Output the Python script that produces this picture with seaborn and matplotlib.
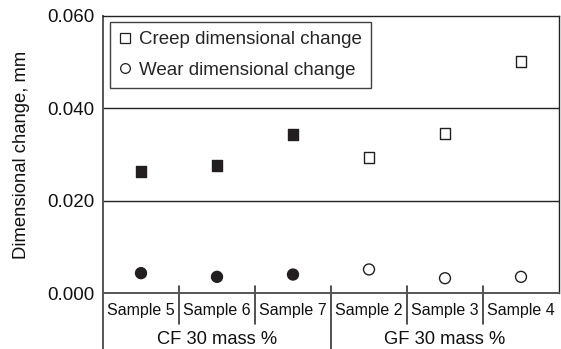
import matplotlib
matplotlib.use("Agg")
import matplotlib.pyplot as plt
from matplotlib.lines import Line2D
import seaborn as sns
import pandas as pd

# Measured dimensional change (mm) per sample
samples = ["Sample 5", "Sample 6", "Sample 7", "Sample 2", "Sample 3", "Sample 4"]
sample_group = ["CF 30 mass %"] * 3 + ["GF 30 mass %"] * 3
groups = ["CF 30 mass %", "GF 30 mass %"]
creep = [0.0264, 0.0276, 0.0344, 0.0294, 0.0346, 0.0502]
wear = [0.0043, 0.0035, 0.0040, 0.0051, 0.0032, 0.0035]
series_names = ["Creep dimensional change", "Wear dimensional change"]
y_ticks = [0.000, 0.020, 0.040, 0.060]

sns.set_style("white")
plt.rcParams["font.family"] = ["Liberation Sans", "DejaVu Sans"]

ink = "#231f20"

df = pd.DataFrame({
    "sample": samples * 2,
    "group": sample_group * 2,
    "series": [series_names[0]] * len(samples) + [series_names[1]] * len(samples),
    "value": creep + wear,
})

fig = plt.figure(figsize=(5.61, 3.49), dpi=100)
W, H = 561, 349
ax_l, ax_r, ax_t, ax_b = 103, 559, 16, 293
ax = fig.add_axes([ax_l / W, 1 - ax_b / H, (ax_r - ax_l) / W, (ax_b - ax_t) / H])

sns.scatterplot(
    data=df, x="sample", y="value", hue="group", style="series",
    palette={groups[0]: ink, groups[1]: "white"},
    markers={series_names[0]: "s", series_names[1]: "o"},
    s=62, edgecolor=ink, linewidth=1.0, legend=False, ax=ax, zorder=3,
)

ax.set_xlim(-0.5, len(samples) - 0.5)
ax.set_ylim(y_ticks[0], y_ticks[-1])
ax.set_yticks(y_ticks)
ax.set_yticklabels([f"{v:.3f}" for v in y_ticks], fontsize=13.5, color="#111111")
ax.tick_params(axis="y", length=0, pad=6)
ax.set_xticks([])
ax.set_xlabel("")

# horizontal reference lines
for v in y_ticks[1:-1]:
    ax.axhline(v, color="#222222", lw=1.0, zorder=1)

for side in ["top", "right"]:
    ax.spines[side].set_color("#222222")
    ax.spines[side].set_linewidth(1.0)
ax.spines["left"].set_color("#555555")
ax.spines["left"].set_linewidth(1.4)
ax.spines["bottom"].set_color("#555555")
ax.spines["bottom"].set_linewidth(1.4)

ax.set_ylabel("Dimensional change, mm", fontsize=13.3, color="#111111")
ax.yaxis.set_label_coords(-0.160, 0.5)

# category axis below the plot: sample names and group names
px = (ax_b - ax_t)
trans = ax.get_xaxis_transform()
for i, name in enumerate(samples):
    ax.text(i, (ax_b - 311) / px, name, transform=trans, ha="center", va="center",
            fontsize=11.5, color="#111111")

for i in range(1, len(samples)):
    if sample_group[i] != sample_group[i - 1]:
        y0 = -0.3
    else:
        y0 = (ax_b - 324) / px
    ax.plot([i - 0.5, i - 0.5], [(ax_b - 286) / px, y0], transform=trans,
            color="#333333", lw=1.2, clip_on=False)
ax.plot([-0.5, -0.5], [0, -0.3], transform=trans, color="#555555", lw=1.4, clip_on=False)

for g in groups:
    idx = [i for i, sg in enumerate(sample_group) if sg == g]
    center = sum(idx) / len(idx)
    ax.text(center, (ax_b - 344) / px, g, transform=trans, ha="center", va="baseline",
            fontsize=13.2, color="#111111")

handles = [
    Line2D([], [], ls="none", marker="s", markersize=7, markerfacecolor="white",
           markeredgecolor=ink, markeredgewidth=0.9),
    Line2D([], [], ls="none", marker="o", markersize=7, markerfacecolor="white",
           markeredgecolor=ink, markeredgewidth=0.9),
]
leg = ax.legend(handles, series_names, loc="upper left",
                bbox_to_anchor=((110 - ax_l) / (ax_r - ax_l), (ax_b - 22) / px),
                borderaxespad=0, fontsize=13.5, frameon=True, fancybox=False,
                handlelength=0.6, handletextpad=0.45, labelspacing=0.7,
                borderpad=0.5)
leg.get_frame().set_edgecolor("#111111")
leg.get_frame().set_linewidth(1.0)

fig.savefig("out.png", dpi=100)
